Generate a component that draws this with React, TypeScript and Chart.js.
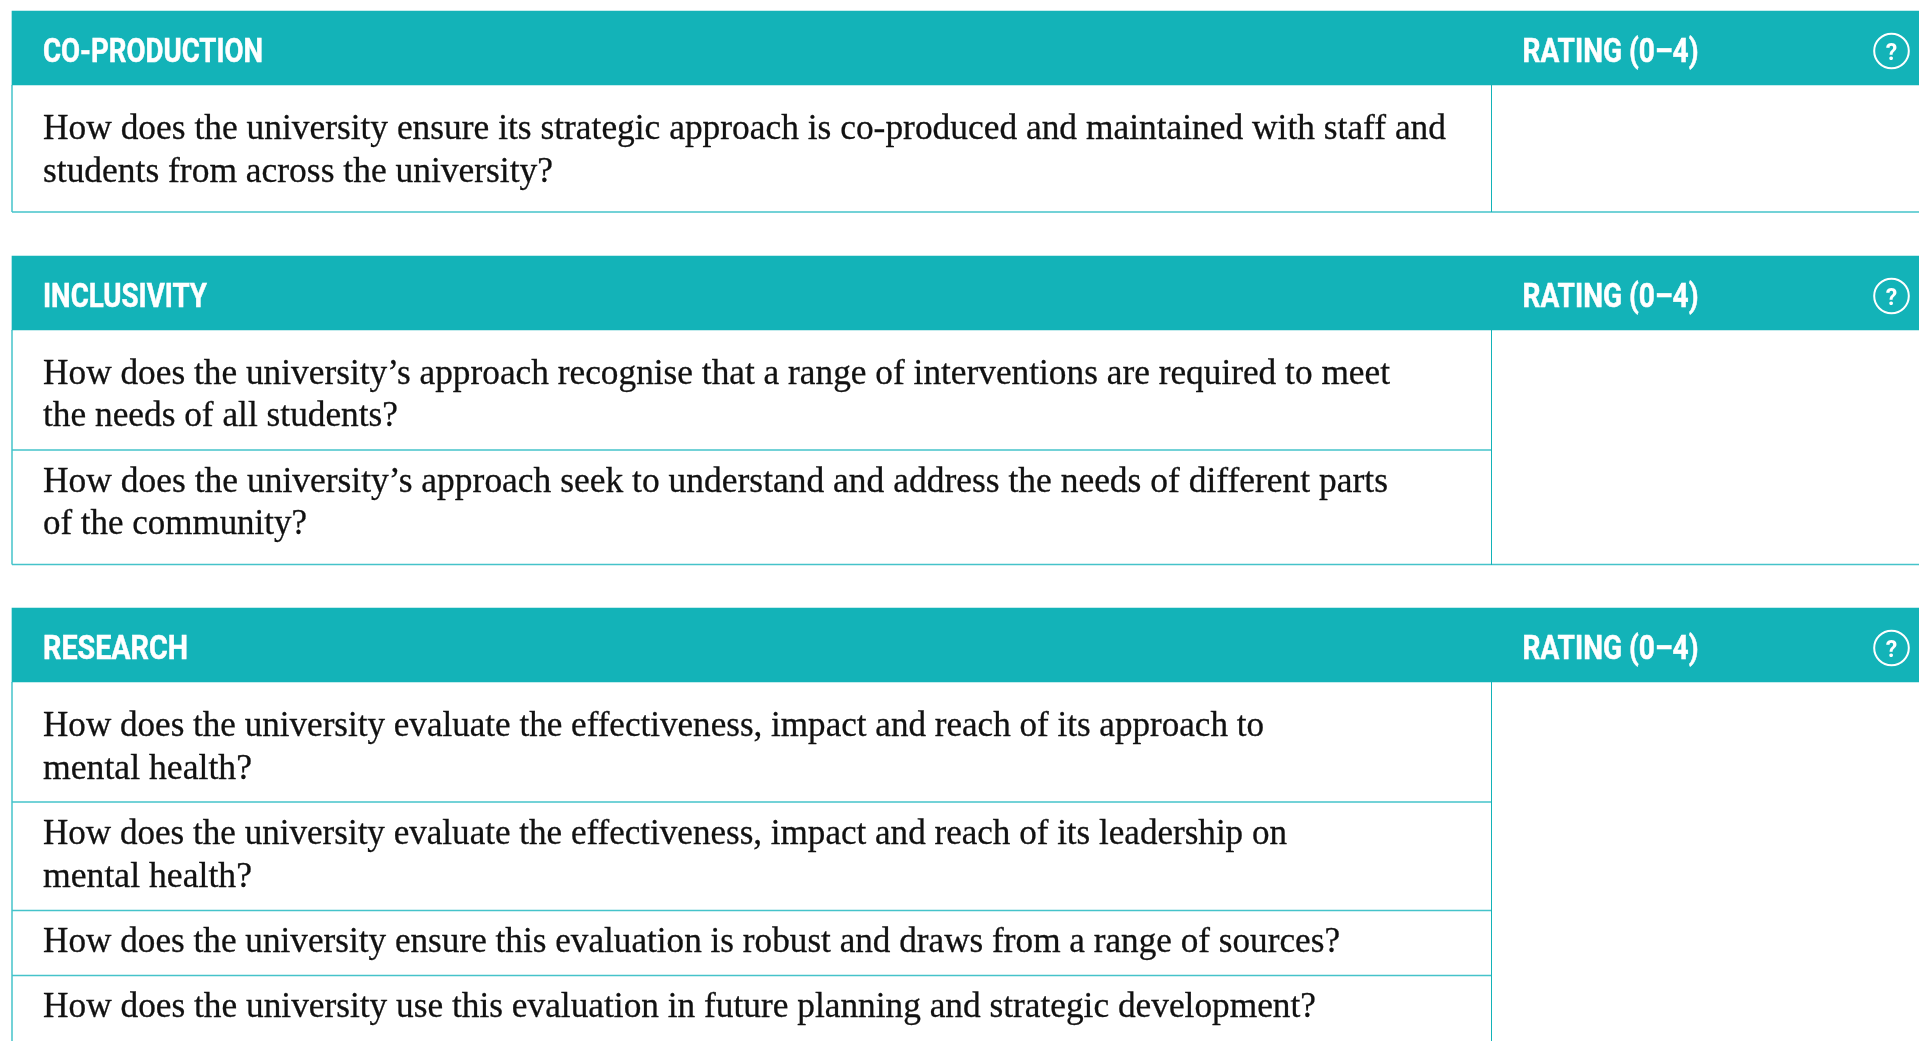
import React, { useEffect, useRef } from "react";
import { Chart, registerables } from "chart.js";

Chart.register(...registerables);

// ---- content ----
const sectionTitles = ["CO-PRODUCTION", "INCLUSIVITY", "RESEARCH"];
const ratingLabel = "RATING (0–4)";
const helpLabel = "?";
const coProductionLines = [
  "How does the university ensure its strategic approach is co-produced and maintained with staff and",
  "students from across the university?",
];
const inclusivityLines = [
  "How does the university’s approach recognise that a range of interventions are required to meet",
  "the needs of all students?",
  "How does the university’s approach seek to understand and address the needs of different parts",
  "of the community?",
];
const researchLines = [
  "How does the university evaluate the effectiveness, impact and reach of its approach to",
  "mental health?",
  "How does the university evaluate the effectiveness, impact and reach of its leadership on",
  "mental health?",
  "How does the university ensure this evaluation is robust and draws from a range of sources?",
  "How does the university use this evaluation in future planning and strategic development?",
];

// ---- layout, in page pixels ----
const W = 1919;
const H = 1041;
const LEFT = 12;
const SPLIT = 1491.5;
const TEXT_X = 43;
const RATING_X = 1522.5;
const ICON_X = 1891.5;
const BAND_H = 74;
const bandTops = [11, 256, 608];
const sectionBottoms = [212, 564.5, H + 10];
const rowLines = [450, 802, 910.5, 975.5];
const titleWidths = [220, 164, 145];
const RATING_W = 176;
const bodyBaselines = [
  [139, 182],
  [384, 426, 492, 534],
  [736, 779, 844, 887, 952, 1017],
];
const bodyRights = [
  [1446, 553],
  [1390, 398, 1388, 307],
  [1264, 252, 1287, 252, 1340, 1316],
];
const bodyLines = [coProductionLines, inclusivityLines, researchLines];

const TEAL = "#13b3b8";
const RULE = "#45c3ca";
const INK = "#111111";
const SERIF = '35.5px "Liberation Serif"';
const HEAD = 'bold 33px Roboto';

function seg(pts: { x: number; y: number }[], color: string, width: number) {
  return {
    type: "scatter",
    data: pts,
    showLine: true,
    borderColor: color,
    borderWidth: width,
    pointRadius: 0,
    fill: false,
    order: 2,
  };
}

const textPlugin = {
  id: "tableText",
  afterDatasetsDraw(chart: any) {
    const { ctx, scales } = chart;
    const px = (v: number) => scales.x.getPixelForValue(v);
    const py = (v: number) => scales.y.getPixelForValue(v);
    const fitted = (t: string, x: number, y: number, font: string, color: string, sx: number, stroke: number) => {
      ctx.save();
      ctx.font = font;
      ctx.fillStyle = color;
      ctx.strokeStyle = color;
      ctx.lineWidth = stroke;
      ctx.textAlign = "left";
      ctx.textBaseline = "alphabetic";
      ctx.translate(x, y);
      ctx.scale(sx, 1);
      ctx.fillText(t, 0, 0);
      ctx.strokeText(t, 0, 0);
      ctx.restore();
    };
    const width = (t: string, font: string) => {
      ctx.save();
      ctx.font = font;
      const w = ctx.measureText(t).width;
      ctx.restore();
      return w;
    };
    bodyLines.forEach((lines, s) =>
      lines.forEach((t, i) =>
        fitted(
          t,
          px(TEXT_X),
          py(bodyBaselines[s][i]),
          SERIF,
          INK,
          (bodyRights[s][i] - TEXT_X) / width(t, SERIF),
          0.3
        )
      )
    );
    sectionTitles.forEach((t, s) => {
      const base = py(bandTops[s] + 50.7);
      fitted(t, px(TEXT_X), base, HEAD, "#ffffff", titleWidths[s] / width(t, HEAD), 0.5);
      fitted(ratingLabel, px(RATING_X), base, HEAD, "#ffffff", RATING_W / width(ratingLabel, HEAD), 0.5);
      ctx.save();
      ctx.font = "bold 23px Roboto";
      ctx.fillStyle = "#ffffff";
      ctx.textAlign = "center";
      ctx.textBaseline = "alphabetic";
      ctx.fillText(helpLabel, px(ICON_X), py(bandTops[s] + 49));
      ctx.restore();
    });
  },
};

export default function App() {
  const ref = useRef<HTMLCanvasElement | null>(null);

  useEffect(() => {
    document.body.style.margin = "0";
    const rules: any[] = [];
    bandTops.forEach((top, s) => {
      const yA = top + BAND_H;
      const yB = sectionBottoms[s];
      rules.push(seg([{ x: LEFT, y: yA }, { x: LEFT, y: yB }], RULE, 1.5));
      rules.push(seg([{ x: SPLIT, y: yA }, { x: SPLIT, y: yB }], TEAL, 1));
      rules.push(seg([{ x: LEFT, y: yB }, { x: W, y: yB }], RULE, 1.5));
    });
    rowLines.forEach((y) => rules.push(seg([{ x: LEFT, y }, { x: SPLIT, y }], RULE, 1.5)));

    const chart = new Chart(ref.current as HTMLCanvasElement, {
      type: "bar",
      data: {
        datasets: [
          {
            type: "bar",
            indexAxis: "y",
            label: "bands",
            data: bandTops.map((top) => ({ x: [LEFT, W], y: top + BAND_H / 2 })),
            backgroundColor: TEAL,
            borderWidth: 0,
            barThickness: BAND_H,
            grouped: false,
            order: 1,
          },
          ...rules,
          {
            type: "scatter",
            label: "help",
            data: bandTops.map((top) => ({ x: ICON_X, y: top + 40 })),
            pointRadius: 17.3,
            pointBorderWidth: 2,
            pointBorderColor: "#ffffff",
            pointBackgroundColor: "rgba(0,0,0,0)",
            order: 0,
          },
        ],
      } as any,
      options: {
        responsive: false,
        animation: false,
        layout: { padding: 0, autoPadding: false },
        events: [],
        plugins: { legend: { display: false }, tooltip: { enabled: false }, title: { display: false } },
        scales: {
          x: { type: "linear", min: 0, max: W, display: false, offset: false },
          y: { type: "linear", min: 0, max: H, reverse: true, display: false, offset: false },
        },
      } as any,
      plugins: [textPlugin],
    });
    return () => chart.destroy();
  }, []);

  return (
    <div style={{ width: W, height: H, background: "#ffffff", overflow: "hidden" }}>
      <canvas ref={ref} width={W} height={H} style={{ display: "block" }} />
    </div>
  );
}
